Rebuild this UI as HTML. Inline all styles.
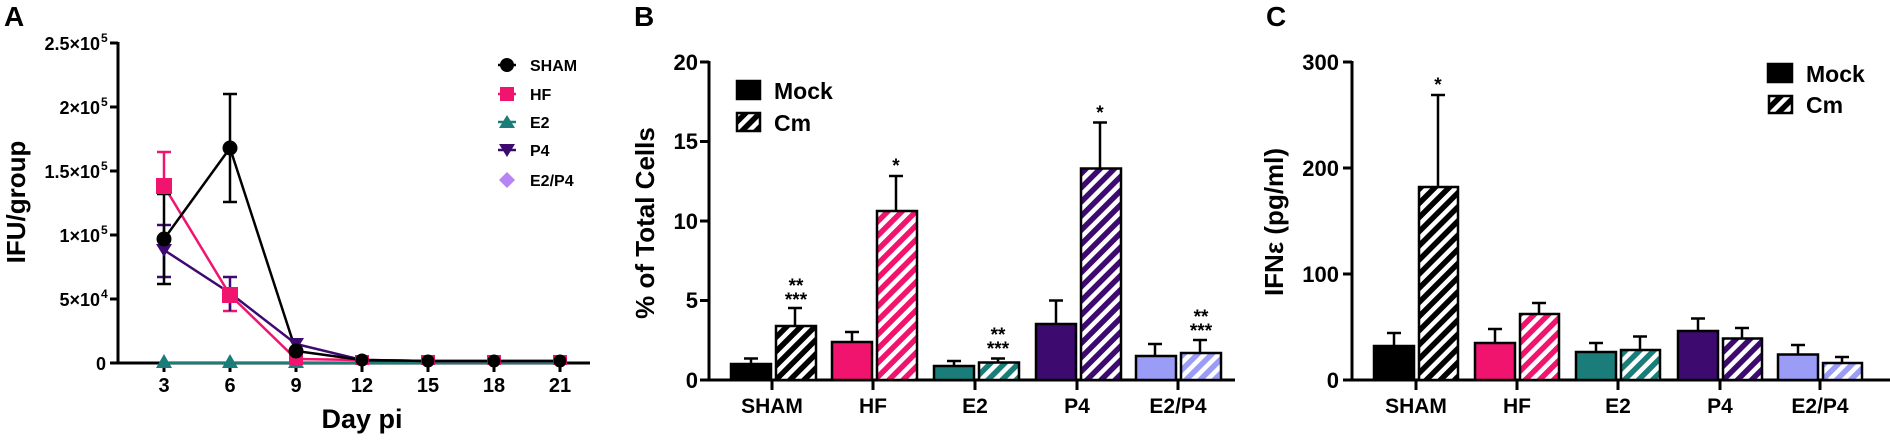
<!DOCTYPE html>
<html><head><meta charset="utf-8"><style>
body{margin:0;background:#fff}
svg{display:block;font-family:"Liberation Sans",Arial,sans-serif;font-weight:bold}
</style></head><body>
<svg width="1890" height="443" viewBox="0 0 1890 443" xmlns="http://www.w3.org/2000/svg">
<defs>
<pattern id="hk" width="10" height="10" patternUnits="userSpaceOnUse" patternTransform="rotate(45)"><rect width="10" height="10" fill="#000"/><rect width="4.5" height="10" fill="#fff"/></pattern>
<pattern id="hp" width="10" height="10" patternUnits="userSpaceOnUse" patternTransform="rotate(45)"><rect width="10" height="10" fill="#f0146e"/><rect width="4.5" height="10" fill="#fff"/></pattern>
<pattern id="ht" width="10" height="10" patternUnits="userSpaceOnUse" patternTransform="rotate(45)"><rect width="10" height="10" fill="#1a7d7a"/><rect width="4.5" height="10" fill="#fff"/></pattern>
<pattern id="hv" width="10" height="10" patternUnits="userSpaceOnUse" patternTransform="rotate(45)"><rect width="10" height="10" fill="#3d0a70"/><rect width="4.5" height="10" fill="#fff"/></pattern>
<pattern id="hl" width="10" height="10" patternUnits="userSpaceOnUse" patternTransform="rotate(45)"><rect width="10" height="10" fill="#9a9cf5"/><rect width="4.5" height="10" fill="#fff"/></pattern>
</defs>
<g font-size="28"><text x="4" y="26">A</text><text x="634" y="26">B</text><text x="1266" y="26">C</text></g>

<!-- Panel A -->
<g stroke="#000" stroke-width="3" fill="none">
<line x1="118" y1="42" x2="118" y2="364"/><line x1="117" y1="363" x2="590" y2="363"/>
<line x1="110" y1="43" x2="118" y2="43"/><line x1="110" y1="107" x2="118" y2="107"/><line x1="110" y1="171" x2="118" y2="171"/><line x1="110" y1="235" x2="118" y2="235"/><line x1="110" y1="299" x2="118" y2="299"/><line x1="110" y1="363" x2="118" y2="363"/>
<line x1="164" y1="363" x2="164" y2="372"/><line x1="230" y1="363" x2="230" y2="372"/><line x1="296" y1="363" x2="296" y2="372"/><line x1="362" y1="363" x2="362" y2="372"/><line x1="428" y1="363" x2="428" y2="372"/><line x1="494" y1="363" x2="494" y2="372"/><line x1="560" y1="363" x2="560" y2="372"/>
</g>
<g font-size="18" text-anchor="end">
<text x="100" y="50">2.5×10</text><text x="100" y="114">2×10</text><text x="100" y="178">1.5×10</text><text x="100" y="242">1×10</text><text x="100" y="306">5×10</text><text x="106" y="370">0</text></g>
<g font-size="12"><text x="101" y="42">5</text><text x="101" y="106">5</text><text x="101" y="170">5</text><text x="101" y="234">5</text><text x="101" y="298">4</text></g>
<g font-size="20" text-anchor="middle"><text x="164" y="392">3</text><text x="230" y="392">6</text><text x="296" y="392">9</text><text x="362" y="392">12</text><text x="428" y="392">15</text><text x="494" y="392">18</text><text x="560" y="392">21</text></g>
<text x="362" y="428" font-size="27" text-anchor="middle">Day pi</text>
<text transform="translate(25,202) rotate(-90)" font-size="26" text-anchor="middle">IFU/group</text>
<g fill="none" stroke-width="2.5">
<polyline stroke="#1a7d7a" points="164,363 230,363 296,363 362,363 428,363 494,363 560,363"/>
<polyline stroke="#3d0a70" points="164,250 230,293 296,344 362,360 428,361 494,361 560,361"/>
<polyline stroke="#f0146e" points="164,186 230,295 296,359 362,360 428,361 494,361 560,361"/>
<polyline stroke="#000" points="164,239 230,148 296,351 362,360 428,361 494,361 560,361"/>
<g stroke="#f0146e"><line x1="164" y1="186" x2="164" y2="152"/><line x1="157" y1="152" x2="171" y2="152"/><line x1="230" y1="295" x2="230" y2="311"/><line x1="223" y1="311" x2="237" y2="311"/></g>
<g stroke="#3d0a70"><line x1="164" y1="225" x2="164" y2="277"/><line x1="157" y1="225" x2="171" y2="225"/><line x1="157" y1="277" x2="171" y2="277"/><line x1="230" y1="277" x2="230" y2="311"/><line x1="223" y1="277" x2="237" y2="277"/></g>
<g stroke="#000"><line x1="164" y1="194" x2="164" y2="284"/><line x1="157" y1="194" x2="171" y2="194"/><line x1="157" y1="284" x2="171" y2="284"/><line x1="230" y1="94" x2="230" y2="202"/><line x1="223" y1="94" x2="237" y2="94"/><line x1="223" y1="202" x2="237" y2="202"/></g>
</g>
<g fill="#1a7d7a"><path d="M164,354 l8,14 h-16z"/><path d="M230,354 l8,14 h-16z"/><path d="M296,354 l8,14 h-16z"/></g>
<g fill="#3d0a70"><path d="M164,257 l-8,-13 h16z"/><path d="M230,300 l-8,-13 h16z"/><path d="M296,351 l-8,-13 h16z"/></g>
<g fill="#f0146e"><rect x="156" y="178" width="16" height="16"/><rect x="222" y="287" width="16" height="16"/><rect x="289" y="354" width="14" height="11"/><rect x="355" y="355" width="14" height="10"/><rect x="421" y="355" width="14" height="10"/><rect x="487" y="355" width="14" height="10"/><rect x="553" y="355" width="14" height="10"/></g>
<g fill="#000"><circle cx="164" cy="239" r="7.5"/><circle cx="230" cy="148" r="7.5"/><circle cx="296" cy="351" r="7.5"/><circle cx="362" cy="360" r="6.5"/><circle cx="428" cy="361" r="6.5"/><circle cx="494" cy="361" r="6.5"/><circle cx="560" cy="361" r="6.5"/></g>
<g stroke-width="2.5"><line x1="498" y1="65" x2="516" y2="65" stroke="#000"/><line x1="498" y1="94" x2="516" y2="94" stroke="#f0146e"/><line x1="498" y1="122" x2="516" y2="122" stroke="#1a7d7a"/><line x1="498" y1="150" x2="516" y2="150" stroke="#3d0a70"/></g>
<circle cx="507" cy="65" r="7"/><rect x="500" y="87" width="14" height="14" fill="#f0146e"/><path d="M507,115 l8,13 h-16z" fill="#1a7d7a"/><path d="M507,157 l-8,-13 h16z" fill="#3d0a70"/><path d="M507,172 l8,8 -8,8 -8,-8z" fill="#b784f5"/>
<g font-size="16"><text x="530" y="71">SHAM</text><text x="530" y="100">HF</text><text x="530" y="128">E2</text><text x="530" y="156">P4</text><text x="530" y="186">E2/P4</text></g>

<!-- Panel B -->
<g stroke="#000" stroke-width="3"><line x1="709" y1="61" x2="709" y2="381"/><line x1="708" y1="380" x2="1235" y2="380"/>
<line x1="700" y1="62" x2="709" y2="62"/><line x1="700" y1="141.5" x2="709" y2="141.5"/><line x1="700" y1="221" x2="709" y2="221"/><line x1="700" y1="300.5" x2="709" y2="300.5"/><line x1="700" y1="380" x2="709" y2="380"/>
<line x1="772" y1="380" x2="772" y2="390"/><line x1="873" y1="380" x2="873" y2="390"/><line x1="975" y1="380" x2="975" y2="390"/><line x1="1077" y1="380" x2="1077" y2="390"/><line x1="1178" y1="380" x2="1178" y2="390"/></g>
<g font-size="22" text-anchor="end"><text x="698" y="70">20</text><text x="698" y="149">15</text><text x="698" y="229">10</text><text x="698" y="308">5</text><text x="698" y="388">0</text></g>
<g font-size="21" text-anchor="middle"><text x="772" y="413">SHAM</text><text x="873" y="413">HF</text><text x="975" y="413">E2</text><text x="1077" y="413">P4</text><text x="1178" y="413">E2/P4</text></g>
<text transform="translate(654,223) rotate(-90)" font-size="26" text-anchor="middle">% of Total Cells</text>
<g stroke="#000" stroke-width="2.5">
<line x1="751" y1="364" x2="751" y2="358.5"/><line x1="744" y1="358.5" x2="758" y2="358.5"/>
<line x1="795" y1="326" x2="795" y2="308"/><line x1="788" y1="308" x2="802" y2="308"/>
<line x1="852" y1="342" x2="852" y2="332"/><line x1="845" y1="332" x2="859" y2="332"/><line x1="852" y1="342" x2="852" y2="351"/><line x1="845" y1="351" x2="859" y2="351"/>
<line x1="896" y1="211" x2="896" y2="176"/><line x1="889" y1="176" x2="903" y2="176"/>
<line x1="954" y1="366" x2="954" y2="361"/><line x1="947" y1="361" x2="961" y2="361"/><line x1="954" y1="366" x2="954" y2="370"/><line x1="947" y1="370" x2="961" y2="370"/>
<line x1="998" y1="362.5" x2="998" y2="358.5"/><line x1="991" y1="358.5" x2="1005" y2="358.5"/>
<line x1="1056" y1="324" x2="1056" y2="300.5"/><line x1="1049" y1="300.5" x2="1063" y2="300.5"/><line x1="1056" y1="324" x2="1056" y2="348"/><line x1="1049" y1="348" x2="1063" y2="348"/>
<line x1="1100" y1="168.5" x2="1100" y2="122.5"/><line x1="1093" y1="122.5" x2="1107" y2="122.5"/>
<line x1="1155" y1="355" x2="1155" y2="344"/><line x1="1148" y1="344" x2="1162" y2="344"/><line x1="1155" y1="355" x2="1155" y2="365"/><line x1="1148" y1="365" x2="1162" y2="365"/>
<line x1="1200" y1="353" x2="1200" y2="340"/><line x1="1193" y1="340" x2="1207" y2="340"/>
<rect x="731" y="364" width="40" height="16" fill="#000"/><rect x="776" y="326" width="40" height="54" fill="url(#hk)"/>
<rect x="832" y="342" width="40" height="38" fill="#f0146e"/><rect x="877" y="211" width="40" height="169" fill="url(#hp)"/>
<rect x="934" y="366" width="40" height="14" fill="#1a7d7a"/><rect x="979" y="362.5" width="40" height="17.5" fill="url(#ht)"/>
<rect x="1036" y="324" width="40" height="56" fill="#3d0a70"/><rect x="1081" y="168.5" width="40" height="211.5" fill="url(#hv)"/>
<rect x="1136" y="356" width="40" height="24" fill="#9a9cf5"/><rect x="1181" y="353" width="40" height="27" fill="url(#hl)"/>
<rect x="737" y="81" width="23" height="18" fill="#000"/><rect x="737" y="113" width="23" height="18" fill="url(#hk)"/>
</g>
<g font-size="23"><text x="774" y="99">Mock</text><text x="774" y="131">Cm</text></g>
<g font-size="19" text-anchor="middle">
<text x="796" y="292">**</text><text x="796" y="306">***</text>
<text x="896" y="172">*</text>
<text x="998" y="341">**</text><text x="998" y="355">***</text>
<text x="1100" y="119">*</text>
<text x="1201" y="323">**</text><text x="1201" y="337">***</text></g>

<!-- Panel C -->
<g stroke="#000" stroke-width="3"><line x1="1352" y1="61" x2="1352" y2="381"/><line x1="1351" y1="380" x2="1890" y2="380"/>
<line x1="1343" y1="62" x2="1352" y2="62"/><line x1="1343" y1="168" x2="1352" y2="168"/><line x1="1343" y1="274" x2="1352" y2="274"/><line x1="1343" y1="380" x2="1352" y2="380"/>
<line x1="1416" y1="380" x2="1416" y2="390"/><line x1="1517" y1="380" x2="1517" y2="390"/><line x1="1618" y1="380" x2="1618" y2="390"/><line x1="1720" y1="380" x2="1720" y2="390"/><line x1="1820" y1="380" x2="1820" y2="390"/></g>
<g font-size="22" text-anchor="end"><text x="1339" y="70">300</text><text x="1339" y="176">200</text><text x="1339" y="282">100</text><text x="1339" y="388">0</text></g>
<g font-size="21" text-anchor="middle"><text x="1416" y="413">SHAM</text><text x="1517" y="413">HF</text><text x="1618" y="413">E2</text><text x="1720" y="413">P4</text><text x="1820" y="413">E2/P4</text></g>
<text transform="translate(1283,222) rotate(-90)" font-size="26" text-anchor="middle">IFNε (pg/ml)</text>
<g stroke="#000" stroke-width="2.5">
<line x1="1394" y1="346" x2="1394" y2="333"/><line x1="1387" y1="333" x2="1401" y2="333"/>
<line x1="1438" y1="187" x2="1438" y2="95"/><line x1="1431" y1="95" x2="1445" y2="95"/>
<line x1="1495" y1="343" x2="1495" y2="329"/><line x1="1488" y1="329" x2="1502" y2="329"/><line x1="1495" y1="343" x2="1495" y2="357"/><line x1="1488" y1="357" x2="1502" y2="357"/>
<line x1="1539" y1="314" x2="1539" y2="303"/><line x1="1532" y1="303" x2="1546" y2="303"/>
<line x1="1596" y1="352" x2="1596" y2="343"/><line x1="1589" y1="343" x2="1603" y2="343"/><line x1="1596" y1="352" x2="1596" y2="362"/><line x1="1589" y1="362" x2="1603" y2="362"/>
<line x1="1640" y1="350" x2="1640" y2="336.5"/><line x1="1633" y1="336.5" x2="1647" y2="336.5"/>
<line x1="1698" y1="331" x2="1698" y2="318.5"/><line x1="1691" y1="318.5" x2="1705" y2="318.5"/><line x1="1698" y1="331" x2="1698" y2="343"/><line x1="1691" y1="343" x2="1705" y2="343"/>
<line x1="1742" y1="338.5" x2="1742" y2="328"/><line x1="1735" y1="328" x2="1749" y2="328"/>
<line x1="1798" y1="354.5" x2="1798" y2="345"/><line x1="1791" y1="345" x2="1805" y2="345"/><line x1="1798" y1="354.5" x2="1798" y2="364"/><line x1="1791" y1="364" x2="1805" y2="364"/>
<line x1="1842" y1="363" x2="1842" y2="357"/><line x1="1835" y1="357" x2="1849" y2="357"/>
<rect x="1374" y="346" width="40" height="34" fill="#000"/><rect x="1419" y="187" width="39" height="193" fill="url(#hk)"/>
<rect x="1475" y="343" width="40" height="37" fill="#f0146e"/><rect x="1520" y="314" width="39" height="66" fill="url(#hp)"/>
<rect x="1576" y="352" width="40" height="28" fill="#1a7d7a"/><rect x="1621" y="350" width="39" height="30" fill="url(#ht)"/>
<rect x="1678" y="331" width="40" height="49" fill="#3d0a70"/><rect x="1723" y="338.5" width="39" height="41.5" fill="url(#hv)"/>
<rect x="1778" y="354.5" width="40" height="25.5" fill="#9a9cf5"/><rect x="1823" y="363" width="39" height="17" fill="url(#hl)"/>
<rect x="1768" y="64" width="24" height="18" fill="#000"/><rect x="1769" y="96" width="23" height="17" fill="url(#hk)"/>
</g>
<g font-size="23"><text x="1806" y="82">Mock</text><text x="1806" y="113">Cm</text></g>
<text x="1438" y="91" font-size="19" text-anchor="middle">*</text>
</svg>
</body></html>
